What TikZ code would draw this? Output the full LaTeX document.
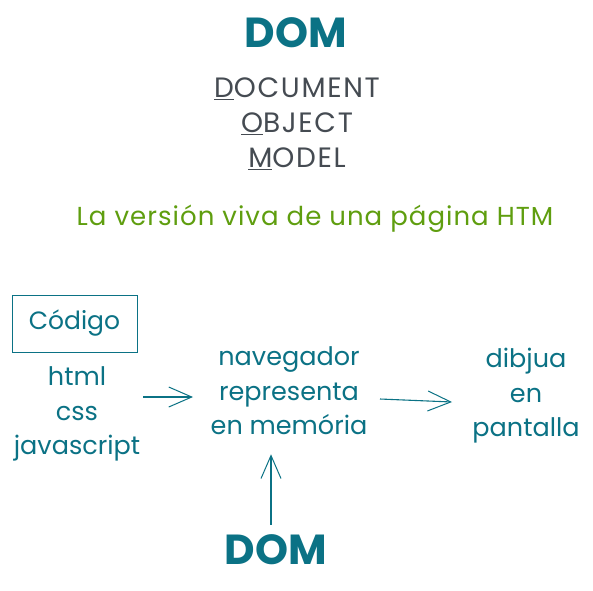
\documentclass[tikz,border=0pt]{standalone}
\usepackage{fontspec}
\setmainfont{Poppins}
\usepackage{xcolor}
\usetikzlibrary{arrows.meta}
\definecolor{tealdom}{HTML}{0B7285}
\definecolor{grisdom}{HTML}{454B52}
\definecolor{verdedom}{HTML}{5F9E0F}
\tikzset{
  texto/.style={tealdom, align=center, inner sep=0pt, font=\fontsize{25.5}{34.5}\selectfont},
  titulo/.style={tealdom, inner sep=0pt, font=\fontsize{42}{46}\selectfont\bfseries},
  flecha/.style={tealdom, line width=1.1pt, -{Straight Barb[length=23pt,width=20pt,line width=1pt]}}
}
\begin{document}
\begin{tikzpicture}[x=1pt,y=-1pt]
		\useasboundingbox[fill=white] (0,0) rectangle (593,590);
		% top title
		\node[titulo] (domtop) at (296,33) {DOM};
		\node[grisdom, align=center, inner sep=0pt, font=\fontsize{28}{35}\selectfont\addfontfeature{LetterSpace=6}] (siglas) at (297,124)
			{\underline{D}OCUMENT\\\underline{O}BJECT\\\underline{M}ODEL};
		\node[verdedom, inner sep=0pt, font=\fontsize{26}{30}\selectfont\addfontfeature{LetterSpace=4}] (viva) at (315,219) {La versión viva de una página HTM};
		% code block
		\node[texto, draw=tealdom, line width=0.9pt, minimum width=125pt, minimum height=57pt, font=\fontsize{25}{30}\selectfont] (codigo) at (74.5,323.5) {Código};
		\node[texto] (lenguajes) at (77,414) {html\\css\\javascript};
		% browser
		\node[texto] (navegador) at (289,391) {navegador\\representa\\en memória};
		\node[texto] (pantalla) at (526,396) {dibjua\\en\\pantalla};
		\node[titulo] (dombot) at (276,550) {DOM};
		% arrows
		\coordinate (a1) at (143,397);
		\coordinate (b1) at (193,397);
		\coordinate (a2) at (380,399);
		\coordinate (b2) at (452,402);
		\draw[flecha] (a1) -- (b1);
		\draw[flecha] (a2) -- (b2);
		\draw[flecha, shorten >=19pt, shorten <=10pt] (dombot.north -| 271,0) -- (navegador.south -| 271,0);
	\end{tikzpicture}
\end{document}
